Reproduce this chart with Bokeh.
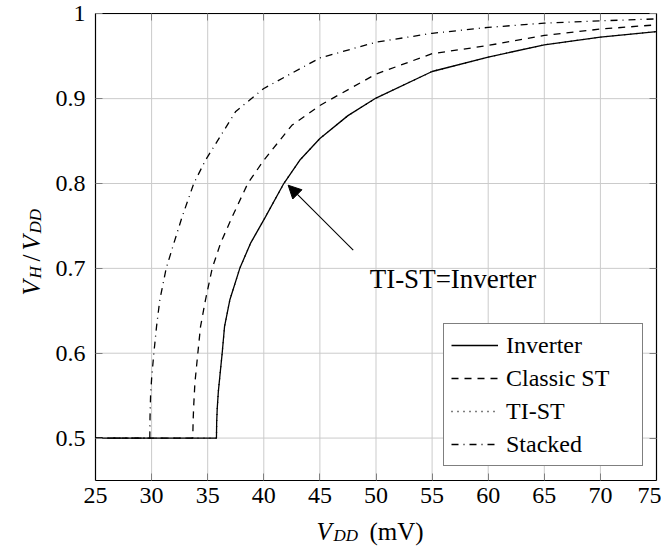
import math
from bokeh.plotting import figure
from bokeh.models import (Range1d, FixedTicker, LinearAxis, Legend, LegendItem,
                          Label, Arrow, NormalHead)
from bokeh.embed import file_html
from bokeh.resources import INLINE

# ---- data ----
inv_x = [25, 35.78, 35.80, 35.85, 35.95, 36.1, 36.29, 36.50, 36.97, 37.86, 38.81, 40.15, 41.78, 43.2, 45, 47.5, 50, 55, 60, 65, 70, 75]
inv_y = [0.5, 0.5, 0.519, 0.535, 0.555, 0.575, 0.6, 0.6313, 0.6627, 0.7, 0.7294, 0.7607, 0.8, 0.8274, 0.853, 0.88, 0.9007, 0.932, 0.949, 0.9635, 0.9725, 0.979]

cst_x = [25, 33.67, 33.70, 33.76, 33.86, 34.12, 34.36, 34.80, 35.40, 36.14, 37.18, 38.57, 40.0, 42.5, 45, 50, 55, 60, 65, 70, 75]
cst_y = [0.5, 0.5, 0.52, 0.54, 0.565, 0.6, 0.6313, 0.6627, 0.7, 0.7294, 0.7607, 0.8, 0.8274, 0.8686, 0.892, 0.929, 0.953, 0.9627, 0.9745, 0.982, 0.987]

tist_x = list(inv_x)
tist_y = list(inv_y)

stk_x = [25, 29.84, 29.86, 29.91, 30.0, 30.20, 30.44, 30.73, 31.30, 31.98, 32.72, 33.76, 34.80, 37.5, 40, 45, 50, 55, 60, 65, 70, 75]
stk_y = [0.5, 0.5, 0.525, 0.55, 0.57, 0.6, 0.6313, 0.6627, 0.7, 0.7294, 0.7607, 0.8, 0.8274, 0.885, 0.912, 0.948, 0.9666, 0.977, 0.984, 0.989, 0.9917, 0.994]

x_ticks = [25, 30, 35, 40, 45, 50, 55, 60, 65, 70, 75]
y_ticks = [0.5, 0.6, 0.7, 0.8, 0.9, 1.0]
y_tick_labels = ["0.5", "0.6", "0.7", "0.8", "0.9", "1"]
x_lim = (25, 75)
y_lim = (0.45, 1.0)

series_names = ["Inverter", "Classic ST", "TI-ST", "Stacked"]
annotation_text = "TI-ST=Inverter"

FONT = "Liberation Serif"

# ---- geometry: the frame fills the whole canvas; the data box sits at
#      canvas pixels x 95..656, y 13.3..480 ----
W, H = 661, 548
BX0, BX1, BY0, BY1 = 95.0, 656.0, 13.3, 480.0
sx = (BX1 - BX0) / (x_lim[1] - x_lim[0])
sy = (BY1 - BY0) / (y_lim[1] - y_lim[0])
xr = Range1d(x_lim[0] - BX0 / sx, x_lim[1] + (W - BX1) / sx)
yr = Range1d(y_lim[1] - (H - BY0) / sy, y_lim[1] + BY0 / sy)

p = figure(width=W, height=H, output_backend="svg", toolbar_location=None,
           x_range=xr, y_range=yr, x_axis_type=None, y_axis_type=None,
           min_border=0, min_border_left=0, min_border_right=0,
           min_border_top=0, min_border_bottom=0)
p.background_fill_color = "white"
p.border_fill_color = "white"
p.outline_line_color = None
p.grid.visible = False

# grid lines (from the tick lists)
grid_col = "#cbcbcb"
p.segment(x0=x_ticks, y0=[y_lim[0]] * len(x_ticks), x1=x_ticks, y1=[y_lim[1]] * len(x_ticks),
          line_color=grid_col, line_width=1)
p.segment(x0=[x_lim[0]] * len(y_ticks), y0=y_ticks, x1=[x_lim[1]] * len(y_ticks), y1=y_ticks,
          line_color=grid_col, line_width=1)

tick_color = "#808080"

def make_axis(ticks, loc, fixed, bounds, labels=True):
    ax = LinearAxis(ticker=FixedTicker(ticks=ticks), fixed_location=fixed, bounds=bounds)
    ax.axis_line_color = "black"
    ax.axis_line_width = 1.2
    ax.major_tick_in = 7
    ax.major_tick_out = 0
    ax.minor_tick_line_color = None
    ax.major_tick_line_color = tick_color
    if labels:
        ax.major_label_text_font = FONT
        ax.major_label_text_font_size = "24px"
        ax.major_label_text_color = "black"
    else:
        ax.major_label_text_font_size = "1px"
        ax.major_label_text_color = None
    p.add_layout(ax, loc)
    return ax

xa = make_axis(x_ticks, "below", y_lim[0], x_lim)
xa.major_label_standoff = 7
ya = make_axis(y_ticks, "left", x_lim[0], y_lim)
ya.major_label_standoff = 10
ya.major_label_overrides = {t: s for t, s in zip(y_ticks, y_tick_labels)}
make_axis(x_ticks, "above", y_lim[1], x_lim, labels=False)
make_axis(y_ticks, "right", x_lim[1], y_lim, labels=False)

lw = 1.3
r_tist = p.line(tist_x, tist_y, line_color="black", line_width=lw, line_dash="1 5")
r_stk = p.line(stk_x, stk_y, line_color="black", line_width=lw, line_dash="7 5 1 5")
r_cst = p.line(cst_x, cst_y, line_color="black", line_width=lw, line_dash="7 6")
r_inv = p.line(inv_x, inv_y, line_color="black", line_width=lw)

legend = Legend(items=[
    LegendItem(label=series_names[0], renderers=[r_inv]),
    LegendItem(label=series_names[1], renderers=[r_cst]),
    LegendItem(label=series_names[2], renderers=[r_tist]),
    LegendItem(label=series_names[3], renderers=[r_stk]),
], location=(443, H - 480 + 14))
legend.margin = 0
legend.padding = 7
legend.spacing = 5
legend.glyph_width = 47
legend.glyph_height = 28
legend.label_height = 28
legend.label_width = 129
legend.label_standoff = 8
legend.label_text_font = FONT
legend.label_text_font_size = "24px"
legend.label_text_color = "black"
legend.border_line_color = "black"
legend.border_line_width = 1
legend.background_fill_color = "white"
legend.background_fill_alpha = 1.0
p.add_layout(legend, "center")

# arrow annotation
p.add_layout(Arrow(end=NormalHead(size=13, fill_color="black", line_color="black", line_width=1),
                   x_start=47.97, y_start=0.7215, x_end=42.17, y_end=0.798,
                   line_color="black", line_width=1.1))
p.add_layout(Label(x=56.86, y=0.6872, text=annotation_text, text_align="center",
                   text_baseline="alphabetic", text_font=FONT, text_font_size="27px",
                   text_color="black"))

# axis titles built from pieces, placed in canvas pixels
def lab(x, y, t, size, style="normal", angle=0.0):
    p.add_layout(Label(x=x, y=y, x_units="canvas", y_units="canvas", text=t,
                       text_font=FONT, text_font_size=size,
                       text_font_style=style, text_align="left",
                       text_baseline="alphabetic", angle=angle, text_color="black"))

# x title: V_DD (mV)
lab(316, 531, "V", "25px", "italic")
lab(333, 535, "DD", "17px", "italic")
lab(369, 531, "(mV)", "25px")

# y title: V_H/V_DD (rotated)
a = math.pi / 2
lab(31, 295, "V", "25px", "italic", a)
lab(35, 278, "H", "17px", "italic", a)
lab(31, 261, "/", "25px", "normal", a)
lab(31, 250, "V", "25px", "italic", a)
lab(35, 233, "DD", "17px", "italic", a)

open("out.html", "w").write(file_html(p, INLINE))
